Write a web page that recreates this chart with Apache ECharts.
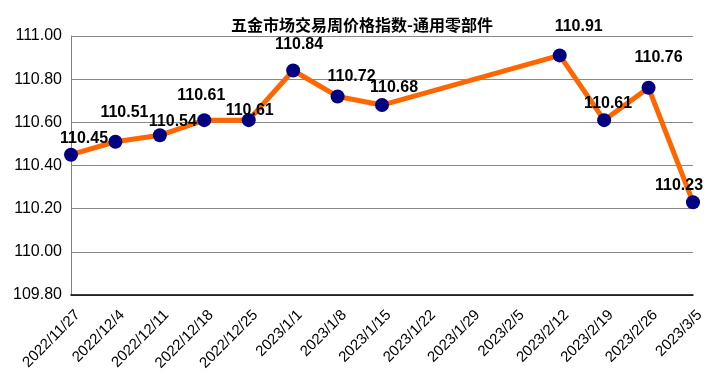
<!DOCTYPE html>
<html><head><meta charset="utf-8">
<script src="https://cdn.jsdelivr.net/npm/echarts@6/dist/echarts.min.js"></script>
<style>html,body{margin:0;padding:0;background:#fff}#c{width:704px;height:379px}</style>
</head><body><div id="c"></div>
<script>
const titleText = '五金市场交易周价格指数-通用零部件';
const categories = ['2022/11/27','2022/12/4','2022/12/11','2022/12/18','2022/12/25','2023/1/1','2023/1/8','2023/1/15','2023/1/22','2023/1/29','2023/2/5','2023/2/12','2023/2/19','2023/2/26','2023/3/5'];
const values = [110.45,110.51,110.54,110.61,110.61,110.84,110.72,110.68,null,null,null,110.91,110.61,110.76,110.23];
const yMin = 109.8, yMax = 111.0, yStep = 0.2;
// label offsets (style only)
const labelOffsets = [[13,-16],[9,-29],[13,-14],[-3,-25],[1,-10],[6,-26],[14,-20],[12,-17],null,null,null,[19,-29],[4,-17],[10,-30],[-14,-17]];

const seriesData = values.map((v,i)=> v===null ? null : {
  value: v,
  label: {offset: labelOffsets[i]}
});

const chart = echarts.init(document.getElementById('c'), null, {renderer:'canvas'});
chart.setOption({
  animation:false,
  backgroundColor:'#fff',
  title:{text:titleText,left:357,top:12,textAlign:'center',
    textStyle:{fontSize:16,fontWeight:'bold',color:'#000',fontFamily:'"Noto Sans CJK SC", sans-serif'}},
  grid:{left:71,right:11,top:36,bottom:84,containLabel:false,outerBoundsMode:'none'},
  xAxis:{type:'category',data:categories,boundaryGap:false,
    axisLine:{lineStyle:{color:'#000',width:1.5}},
    axisTick:{show:false},
    axisLabel:{rotate:45,fontSize:15,color:'#000',fontFamily:'"Liberation Sans", Arial, sans-serif',
      margin:11,interval:0,verticalAlign:'top',padding:[2,0,0,0],hideOverlap:false}},
  yAxis:{type:'value',min:yMin,max:yMax,interval:yStep,
    axisLine:{show:true,lineStyle:{color:'#808080'}},
    axisTick:{show:false},
    splitLine:{lineStyle:{color:'#888',width:1}},
    axisLabel:{fontSize:16,color:'#000',fontFamily:'"Liberation Sans", Arial, sans-serif',margin:9,
      formatter:v=>v.toFixed(2)}},
  series:[{type:'line',data:seriesData,connectNulls:true,
    lineStyle:{color:'#ff6600',width:5},
    symbol:'circle',symbolSize:14,
    itemStyle:{color:'#000080',borderWidth:0},
    label:{show:true,position:'inside',fontSize:16,fontWeight:'bold',color:'#000',
      fontFamily:'"Liberation Sans", Arial, sans-serif',
      formatter:p=>p.value.toFixed(2)},
    z:3}]
});
</script></body></html>
